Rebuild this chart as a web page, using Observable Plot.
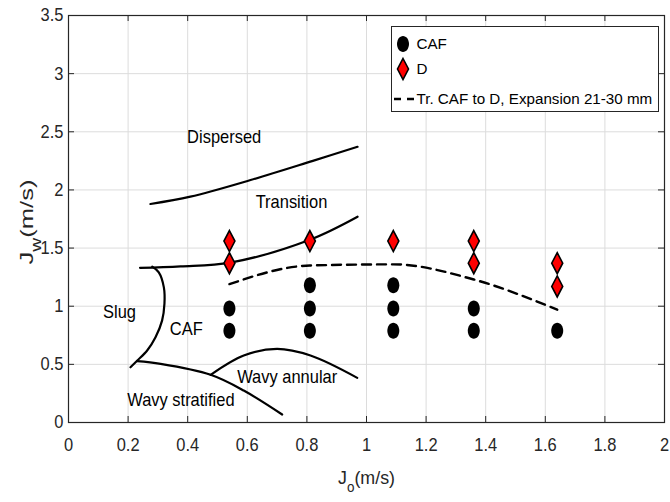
<!DOCTYPE html>
<html><head><meta charset="utf-8">
<script src="https://cdn.jsdelivr.net/npm/d3@7"></script>
<script src="https://cdn.jsdelivr.net/npm/@observablehq/plot@0.6"></script>
<style>
body{margin:0;background:#fff;}
#chart{position:relative;width:670px;height:502px;}
</style></head><body><div id="chart"></div>
<script>
const FONT = '"Liberation Sans",Arial,Helvetica,sans-serif';

// ---- data ----
const cafX = [0.54, 0.54, 0.81, 0.81, 0.81, 1.09, 1.09, 1.09, 1.36, 1.36, 1.64];
const cafY = [0.79, 0.98, 0.79, 0.98, 1.18, 0.79, 0.98, 1.18, 0.79, 0.98, 0.79];
const dX = [0.54, 0.54, 0.81, 1.09, 1.36, 1.36, 1.64, 1.64];
const dY = [1.56, 1.37, 1.56, 1.56, 1.56, 1.37, 1.37, 1.17];
const trX = [0.54, 0.81, 1.09, 1.36, 1.64];
const trY = [1.19, 1.35, 1.36, 1.23, 0.97];

const dispersedX = [0.275, 0.409, 0.611, 0.82, 0.97];
const dispersedY = [1.879, 1.942, 2.085, 2.25, 2.371];
const transitionX = [0.24, 0.376, 0.543, 0.81, 0.97];
const transitionY = [1.33, 1.343, 1.375, 1.572, 1.77];
const slugX = [0.281, 0.303, 0.320, 0.322, 0.314, 0.292, 0.264, 0.231, 0.208];
const slugY = [1.340, 1.291, 1.162, 1.022, 0.876, 0.733, 0.619, 0.533, 0.475];
const stratX = [0.23, 0.309, 0.477, 0.588, 0.717];
const stratY = [0.527, 0.504, 0.410, 0.275, 0.069];
const annularX = [0.477, 0.588, 0.70, 0.812, 0.969];
const annularY = [0.410, 0.576, 0.633, 0.576, 0.384];

const regionLabels = ["Dispersed", "Transition", "Slug", "CAF", "Wavy annular", "Wavy stratified"];
const labelX = [0.398, 0.628, 0.116, 0.340, 0.566, 0.197];
const labelY = [2.451, 1.893, 0.948, 0.805, 0.389, 0.189];

const xTicks = [0, 0.2, 0.4, 0.6, 0.8, 1, 1.2, 1.4, 1.6, 1.8, 2];
const yTicks = [0, 0.5, 1, 1.5, 2, 2.5, 3, 3.5];
const legendLabels = ["CAF", "D", "Tr. CAF to D, Expansion 21-30 mm"];

// ---- helpers ----
const pts = (xs, ys) => xs.map((x, i) => ({x, y: ys[i]}));
const ellipse = {
  draw(ctx) {
    const rx = 6, ry = 8, k = 0.5523;
    ctx.moveTo(rx, 0);
    ctx.bezierCurveTo(rx, ry * k, rx * k, ry, 0, ry);
    ctx.bezierCurveTo(-rx * k, ry, -rx, ry * k, -rx, 0);
    ctx.bezierCurveTo(-rx, -ry * k, -rx * k, -ry, 0, -ry);
    ctx.bezierCurveTo(rx * k, -ry, rx, -ry * k, rx, 0);
    ctx.closePath();
  }
};
const diamond = {
  draw(ctx) {
    const w = 5.5, h = 10.5;
    ctx.moveTo(0, -h); ctx.lineTo(w, 0); ctx.lineTo(0, h); ctx.lineTo(-w, 0); ctx.closePath();
  }
};

const W = 670, H = 502, mL = 68, mR = 6, mT = 15, mB = 80;
const plotW = W - mL - mR, plotH = H - mT - mB;
const FS = 18.5;
const fmt = d => String(+d.toFixed(1));
const lineOpts = {x: "x", y: "y", stroke: "black", strokeWidth: 2.2, curve: "catmull-rom"};

const chart = Plot.plot({
  width: W, height: H,
  marginLeft: mL, marginRight: mR, marginTop: mT, marginBottom: mB,
  style: {fontFamily: FONT, fontSize: FS + "px", background: "white", overflow: "visible"},
  x: {domain: [0, 2]},
  y: {domain: [0, 3.5]},
  marks: [
    Plot.gridX(xTicks, {stroke: "#dcdcdc", strokeOpacity: 1, strokeWidth: 1}),
    Plot.gridY(yTicks, {stroke: "#dcdcdc", strokeOpacity: 1, strokeWidth: 1}),
    Plot.axisX({ticks: xTicks, tickSize: 0, tickPadding: 15, tickFormat: fmt, label: null, fill: "#262626", fontSize: FS}),
    Plot.axisY({ticks: yTicks, tickSize: 0, tickPadding: 5, tickFormat: fmt, label: null, fill: "#262626", fontSize: FS}),
    Plot.tickX(xTicks, {x: d => d, insetTop: plotH - 6, stroke: "#262626"}),
    Plot.tickX(xTicks, {x: d => d, insetBottom: plotH - 6, stroke: "#262626"}),
    Plot.tickY(yTicks, {y: d => d, insetRight: plotW - 6, stroke: "#262626"}),
    Plot.tickY(yTicks, {y: d => d, insetLeft: plotW - 6, stroke: "#262626"}),
    Plot.line(pts(dispersedX, dispersedY), lineOpts),
    Plot.line(pts(transitionX, transitionY), lineOpts),
    Plot.line(pts(slugX, slugY), lineOpts),
    Plot.line(pts(stratX, stratY), lineOpts),
    Plot.line(pts(annularX, annularY), lineOpts),
    Plot.line(pts(trX, trY), {x: "x", y: "y", stroke: "black", strokeWidth: 2.4, strokeDasharray: "9,6", curve: "monotone-x"}),
    Plot.dot(pts(cafX, cafY), {x: "x", y: "y", symbol: ellipse, fill: "black", stroke: "none", r: 6}),
    Plot.dot(pts(dX, dY), {x: "x", y: "y", symbol: diamond, fill: "#ff0000", stroke: "black", strokeWidth: 1.6, r: 6}),
    Plot.text(regionLabels.map((t, i) => ({t, x: labelX[i], y: labelY[i]})),
      {x: "x", y: "y", text: "t", textAnchor: "start", lineAnchor: "middle", fontSize: FS, fill: "black"}),
    Plot.frame({stroke: "#262626", strokeWidth: 1.2})
  ]
});

document.getElementById("chart").appendChild(chart);
const svg = d3.select(chart);

// condense the plot's texts (narrow Helvetica look of the original)
svg.selectAll("text").each(function () {
  const L = this.getComputedTextLength();
  if (L > 0) {
    this.setAttribute("textLength", (L * 0.89).toFixed(2));
    this.setAttribute("lengthAdjust", "spacingAndGlyphs");
  }
});

// axis labels with subscripts
const xl = svg.append("text").attr("x", 366.5).attr("y", 484).attr("text-anchor", "middle")
  .attr("font-family", FONT).attr("font-size", FS).attr("fill", "#262626")
  .attr("textLength", 57).attr("lengthAdjust", "spacingAndGlyphs");
xl.append("tspan").text("J");
xl.append("tspan").attr("dy", 8).attr("font-size", 14).text("o");
xl.append("tspan").attr("dy", -8).text("(m/s)");

const yl = svg.append("text").attr("transform", "translate(33,222) rotate(-90)").attr("text-anchor", "middle")
  .attr("font-family", FONT).attr("font-size", FS).attr("fill", "#262626")
  .attr("textLength", 85).attr("lengthAdjust", "spacingAndGlyphs");
yl.append("tspan").text("J");
yl.append("tspan").attr("dy", 8).attr("font-size", 14).text("w");
yl.append("tspan").attr("dy", -8).text("(m/s)");

// legend
const lg = svg.append("g").attr("font-family", FONT).attr("font-size", 15.2).attr("text-anchor", "start");
lg.append("rect").attr("x", 391.5).attr("y", 26.5).attr("width", 267).attr("height", 85)
  .attr("fill", "white").attr("stroke", "#262626").attr("stroke-width", 1);
const ly = [44, 69, 99];
lg.append("path").attr("transform", `translate(403,${ly[0]})`).attr("d", (() => { const p = d3.path(); ellipse.draw(p); return p.toString(); })()).attr("fill", "black");
lg.append("path").attr("transform", `translate(403,${ly[1]})`).attr("d", (() => { const p = d3.path(); diamond.draw(p); return p.toString(); })())
  .attr("fill", "#ff0000").attr("stroke", "black").attr("stroke-width", 1.6);
lg.append("line").attr("x1", 394).attr("x2", 415).attr("y1", ly[2]).attr("y2", ly[2])
  .attr("stroke", "black").attr("stroke-width", 2.4).attr("stroke-dasharray", "7,6");
legendLabels.forEach((t, i) => {
  lg.append("text").attr("x", 416.5).attr("y", ly[i]).attr("dy", "0.35em")
    .attr("text-anchor", "start").attr("fill", "black").text(t);
});
</script></body></html>
